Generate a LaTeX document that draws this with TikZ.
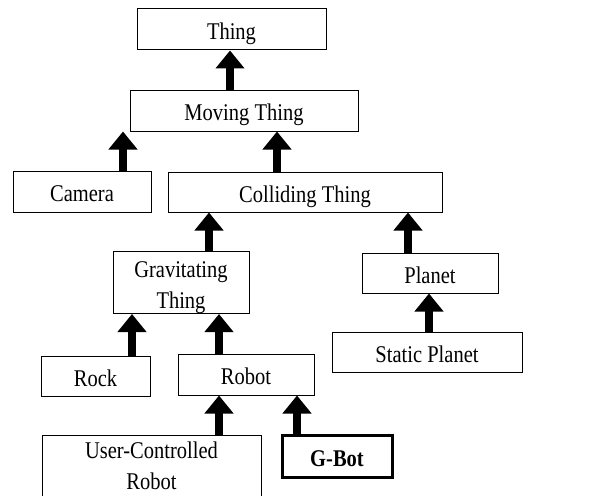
\documentclass[tikz,border=0pt]{standalone}
\usepackage{fontspec}
\usepackage{graphicx}
\setmainfont{Liberation Serif}
\usetikzlibrary{arrows.meta}
\newcommand{\tx}[2][-4pt]{\raisebox{#1}[\height][\depth]{\scalebox{1}[1.17]{\begin{tabular}{@{}c@{}}#2\end{tabular}}}}
\begin{document}
\begin{tikzpicture}[x=1pt,y=-1pt,
  box/.style={draw, line width=1pt, inner sep=0pt, align=center,
    font=\fontsize{20.5}{26.5}\selectfont},
  up/.style={line width=8pt, -{Triangle[width=28pt,length=18pt]}}]
\clip (0,0) rectangle (602,495);
\node[box, minimum width=189pt, minimum height=41pt] (thing) at (231.5,29.5) {\tx{Thing}};
\node[box, minimum width=228pt, minimum height=41pt] (moving) at (244,110.5) {\tx{Moving Thing}};
\node[box, minimum width=138pt, minimum height=41pt] (camera) at (82,191.5) {\tx{Camera}};
\node[box, minimum width=274pt, minimum height=40pt] (colliding) at (305,192) {\tx{Colliding Thing}};
\node[box, minimum width=136pt, minimum height=61pt] (grav) at (181,282.5) {\tx{Gravitating\\Thing}};
\node[box, minimum width=136pt, minimum height=40pt] (planet) at (430,273) {\tx{Planet}};
\node[box, minimum width=190pt, minimum height=40pt] (static) at (427,352) {\tx{Static Planet}};
\node[box, minimum width=109pt, minimum height=40pt] (rock) at (95.5,376) {\tx{Rock}};
\node[box, minimum width=136pt, minimum height=41pt] (robot) at (246,374.5) {\tx{Robot}};
\node[box, minimum width=219pt, minimum height=61pt] (ucr) at (151.5,466.5) {\tx[-1pt]{User-Controlled\\Robot}};
\node[box, line width=3pt, minimum width=110pt, minimum height=42pt, font=\fontsize{20.5}{26.5}\selectfont\bfseries] (gbot) at (337,456) {\tx{G-Bot}};
\draw[up] ([xshift=-14pt]moving.north) -- ([xshift=-14pt]moving.north |- thing.south);
\draw[up] ([xshift=41pt]camera.north) -- ([xshift=41pt]camera.north |- moving.south);
\draw[up] ([xshift=-28pt]colliding.north) -- ([xshift=-28pt]colliding.north |- moving.south);
\draw[up] ([xshift=28pt]grav.north) -- ([xshift=28pt]grav.north |- colliding.south);
\draw[up] ([xshift=-22pt]planet.north) -- ([xshift=-22pt]planet.north |- colliding.south);
\draw[up] ([xshift=2pt]static.north) -- ([xshift=2pt]static.north |- planet.south);
\draw[up] ([xshift=36.5pt]rock.north) -- ([xshift=36.5pt]rock.north |- grav.south);
\draw[up] ([xshift=-27pt]robot.north) -- ([xshift=-27pt]robot.north |- grav.south);
\draw[up] ([xshift=67.5pt]ucr.north) -- ([xshift=67.5pt]ucr.north |- robot.south);
\draw[up] ([xshift=-40pt]gbot.north) -- ([xshift=-40pt]gbot.north |- robot.south);
\end{tikzpicture}
\end{document}
